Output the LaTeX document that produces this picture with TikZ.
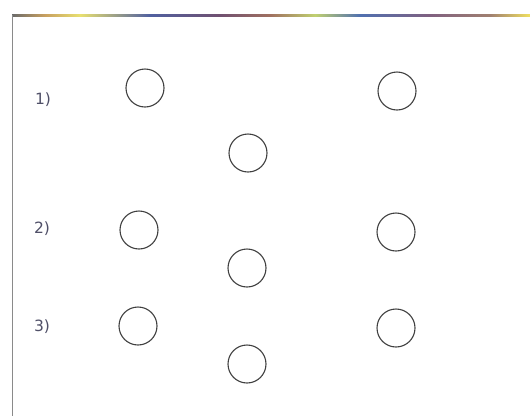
\documentclass[tikz,border=0pt]{standalone}
\usepackage{fontspec}
\setmainfont{DejaVu Sans}
\definecolor{ringcol}{HTML}{404040}
\definecolor{labcol}{HTML}{505068}
\definecolor{edgecol}{HTML}{8A8A8A}
\definecolor{tA}{HTML}{6A6A6A}
\definecolor{tB}{HTML}{C8A060}
\definecolor{tC}{HTML}{E8E070}
\definecolor{tD}{HTML}{5060A0}
\definecolor{tE}{HTML}{705070}
\definecolor{tF}{HTML}{A07060}
\definecolor{tG}{HTML}{C0D070}
\definecolor{tH}{HTML}{5070B0}
\definecolor{tI}{HTML}{806080}
\definecolor{tJ}{HTML}{A08070}
\definecolor{tK}{HTML}{F0E060}
\begin{document}
\begin{tikzpicture}[x=1pt,y=-1pt,
  ring/.style={circle,draw=ringcol,line width=1.1pt,minimum size=38pt,inner sep=0pt},
  lab/.style={text=labcol,font=\fontsize{15.5}{18}\selectfont,inner sep=0pt}]
\useasboundingbox (0,0) rectangle (530,416);
\fill[white] (0,0) rectangle (530,416);
% top bar, drawn as coloured segments
\shade[left color=tA,right color=tB] (12,14.5) rectangle (45,16.5);
\shade[left color=tB,right color=tC] (45,14.5) rectangle (80,16.5);
\shade[left color=tC,right color=tD] (80,14.5) rectangle (150,16.5);
\shade[left color=tD,right color=tE] (150,14.5) rectangle (220,16.5);
\shade[left color=tE,right color=tF] (220,14.5) rectangle (270,16.5);
\shade[left color=tF,right color=tG] (270,14.5) rectangle (315,16.5);
\shade[left color=tG,right color=tH] (315,14.5) rectangle (360,16.5);
\shade[left color=tH,right color=tI] (360,14.5) rectangle (430,16.5);
\shade[left color=tI,right color=tJ] (430,14.5) rectangle (490,16.5);
\shade[left color=tJ,right color=tK] (490,14.5) rectangle (530,16.5);
\draw[edgecol,line width=1pt] (12.5,15) -- (12.5,416);
% labels
\node[lab] (l1) at (43,100) {1)};
\node[lab] (l2) at (42,229) {2)};
\node[lab] (l3) at (42,327) {3)};
% circles
\node[ring] (a1) at (145,88) {};
\node[ring] (b1) at (397,91) {};
\node[ring] (c1) at (248,153) {};
\node[ring] (a2) at (139,230) {};
\node[ring] (b2) at (396,232) {};
\node[ring] (c2) at (247,268) {};
\node[ring] (a3) at (138,326) {};
\node[ring] (b3) at (396,328) {};
\node[ring] (c3) at (247,364) {};
\end{tikzpicture}
\end{document}
